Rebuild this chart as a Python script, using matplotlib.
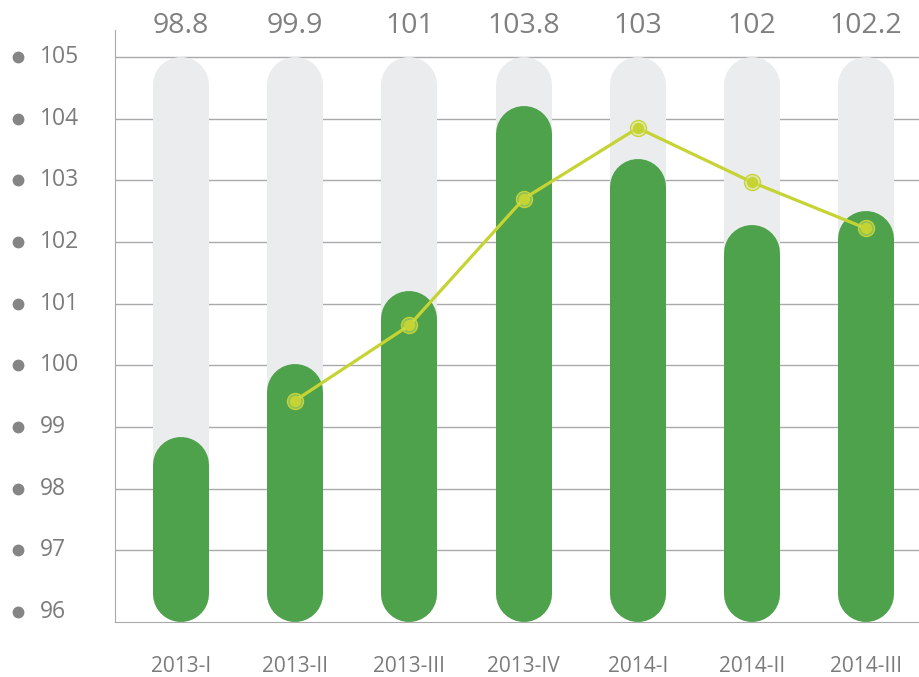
import numpy as np
import matplotlib.pyplot as plt

plt.rcParams['font.family'] = ['Open Sans', 'DejaVu Sans']

# data
categories = ['2013-I', '2013-II', '2013-III', '2013-IV', '2014-I', '2014-II', '2014-III']
values = [98.8, 99.9, 101, 103.8, 103, 102, 102.2]
track_top = 105
line_values = [99.43, 100.65, 102.7, 103.85, 102.97, 102.22]   # from 2013-II on
y_ticks = [96, 97, 98, 99, 100, 101, 102, 103, 104, 105]

green = '#4ea24b'
track = '#ebecee'
lime = '#c6d433'
grid_c = '#a9a9a9'
text_c = '#7b7b7b'

fig = plt.figure(figsize=(9.2, 6.77), dpi=100)
ax = fig.add_axes([0.125, 0.0812, 0.875, 0.8744])
x = np.arange(len(categories))
ax.set_xlim(-0.578, 6.471)
ax.set_ylim(95.838, 105.437)

ax_bar = ax.twinx()
ax_bar.set_ylim(96, 104.94)
ax_line = ax.twinx()
ax_line.set_ylim(ax.get_ylim())

for a in (ax, ax_bar, ax_line):
    for s in a.spines.values():
        s.set_visible(False)
    a.set_yticks([])
ax.set_xticks([])
ax.spines['left'].set_visible(True)
ax.spines['bottom'].set_visible(True)
ax.spines['left'].set_color(grid_c)
ax.spines['bottom'].set_color(grid_c)

# bar width in px -> points, cap radius in data units
bw_px = 56
bw_pt = bw_px * 72 / fig.dpi
ax_h = fig.bbox.height * ax.get_position().height
def cap(a):
    lo, hi = a.get_ylim()
    return (bw_px / 2) / (ax_h / (hi - lo))

# grid
for t in y_ticks[1:]:
    ax.axhline(t, color=grid_c, lw=1, zorder=0)

# grey tracks
r = cap(ax)
lo = ax.get_ylim()[0]
for i in x:
    ax.plot([i, i], [lo + r, track_top - r], color=track, lw=bw_pt,
            solid_capstyle='round', zorder=2)

# green bars
r2 = cap(ax_bar)
for i, v in zip(x, values):
    ax_bar.plot([i, i], [96 + r2, v - r2], color=green, lw=bw_pt,
                solid_capstyle='round', zorder=2)

# line
lx = x[1:]
ax_line.plot(lx, line_values, color=lime, lw=2.3, zorder=3)
ax_line.plot(lx, line_values, 'o', ms=11.5, mfc=(0.85, 0.9, 0.45, 0.45),
             mec=lime, mew=1.0, zorder=4)
ax_line.plot(lx, line_values, 'o', ms=7.2, mfc=lime, mec=lime, zorder=5)

# y labels with dots
ytr = ax.get_yaxis_transform()
ax.plot([-0.1205] * len(y_ticks), y_ticks, 'o', ms=7.5, color='#858585',
        transform=ytr, clip_on=False)
for t in y_ticks:
    ax.text(-0.0932, t, str(t), transform=ytr, ha='left', va='center',
            fontsize=16.5, color=text_c)

# top values and bottom categories
xtr = ax.get_xaxis_transform()
for i, v in zip(x, values):
    ax.text(i, 0.995, f'{v:g}', transform=xtr, ha='center', va='baseline',
            fontsize=20.5, color='#808080')
for i, c in zip(x, categories):
    ax.text(i, -0.0845, c, transform=xtr, ha='center', va='baseline',
            fontsize=15, color=text_c)

fig.savefig('out.png', dpi=100)
